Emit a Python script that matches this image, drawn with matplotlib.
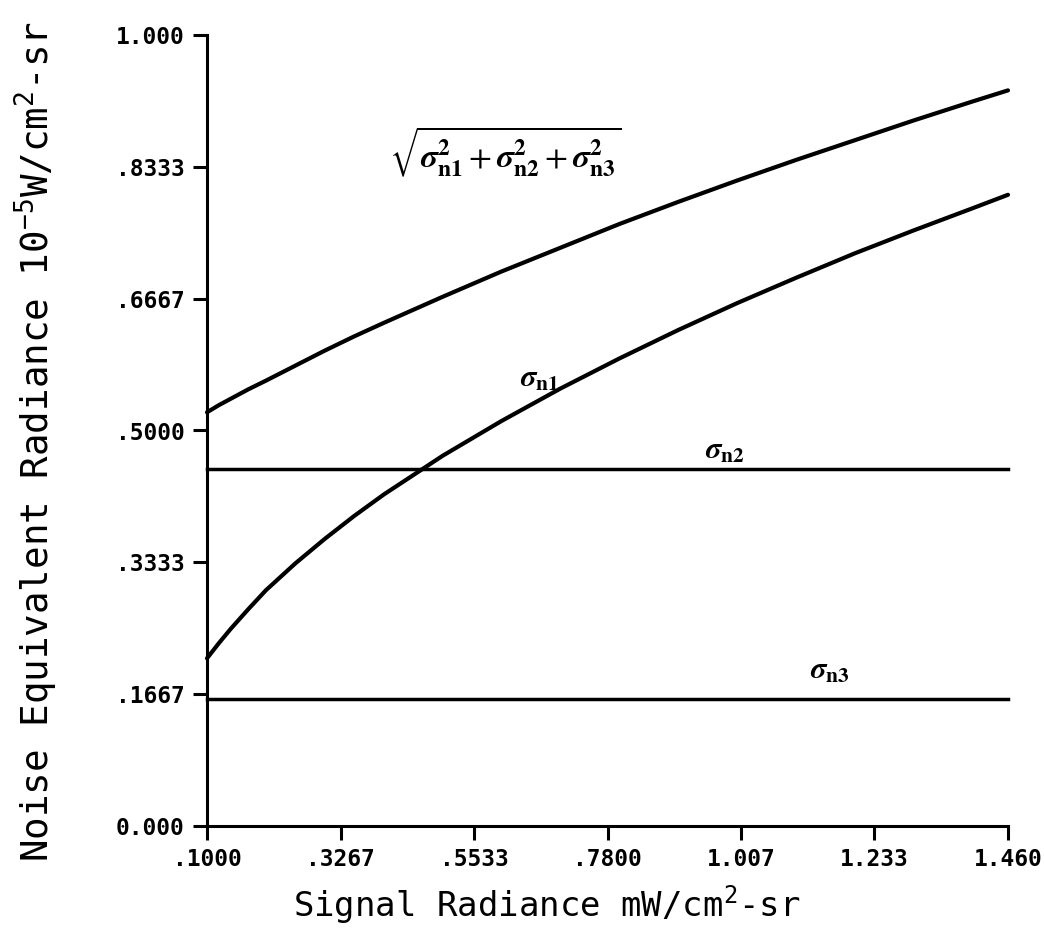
import matplotlib
matplotlib.use("Agg")
import matplotlib.pyplot as plt

plt.rcParams['mathtext.fontset'] = 'custom'
plt.rcParams['mathtext.rm'] = 'DejaVu Sans Mono'
plt.rcParams['mathtext.it'] = 'DejaVu Sans Mono'
plt.rcParams['mathtext.bf'] = 'DejaVu Sans Mono:bold'

# Signal radiance (mW/cm^2-sr)
signal = [0.10, 0.12, 0.14, 0.17, 0.20, 0.25, 0.30, 0.35, 0.40, 0.50, 0.60,
          0.70, 0.80, 0.90, 1.00, 1.10, 1.20, 1.30, 1.40, 1.46]
# sigma_n1
sigma_n1 = [0.212, 0.231, 0.249, 0.274, 0.298, 0.332, 0.363, 0.392, 0.419,
            0.468, 0.512, 0.553, 0.591, 0.627, 0.661, 0.693, 0.724, 0.753,
            0.781, 0.798]
# total noise sqrt(sn1^2+sn2^2+sn3^2)
sigma_total = [0.523, 0.532, 0.540, 0.552, 0.563, 0.582, 0.601, 0.619, 0.636,
               0.669, 0.701, 0.731, 0.761, 0.789, 0.816, 0.842, 0.867, 0.892,
               0.916, 0.930]
# constant terms
sigma_n2_x = [0.10, 1.46]
sigma_n2 = [0.451, 0.451]
sigma_n3_x = [0.10, 1.46]
sigma_n3 = [0.160, 0.160]

xticks = [0.1000, 0.3267, 0.5533, 0.7800, 1.007, 1.233, 1.460]
xticklabels = ['.1000', '.3267', '.5533', '.7800', '1.007', '1.233', '1.460']
yticks = [0.0, 0.1667, 0.3333, 0.5000, 0.6667, 0.8333, 1.000]
yticklabels = ['0.000', '.1667', '.3333', '.5000', '.6667', '.8333', '1.000']

fig = plt.figure(figsize=(10.44, 9.38), dpi=100)
ax = fig.add_axes([207/1044, 1-826/938, (1008-207)/1044, (826-35)/938])

lw = 3.0
ax.plot(signal, sigma_total, color='black', lw=lw, clip_on=False, solid_capstyle='round')
ax.plot(signal, sigma_n1, color='black', lw=lw, clip_on=False, solid_capstyle='round')
ax.plot(sigma_n2_x, sigma_n2, color='black', lw=2.5, clip_on=False)
ax.plot(sigma_n3_x, sigma_n3, color='black', lw=2.5, clip_on=False)

ax.set_xlim(0.1, 1.46)
ax.set_ylim(0, 1.0)
ax.spines['top'].set_visible(False)
ax.spines['right'].set_visible(False)
for s in ['left', 'bottom']:
    ax.spines[s].set_linewidth(2.2)

ax.set_xticks(xticks)
ax.set_xticklabels(xticklabels, fontfamily='DejaVu Sans Mono', fontweight='bold', fontsize=16.5)
ax.set_yticks(yticks)
ax.set_yticklabels(yticklabels, fontfamily='DejaVu Sans Mono', fontweight='bold', fontsize=16.5)
ax.tick_params(axis='both', direction='out', length=10, width=2.2, pad=6)

ax.set_xlabel(r'Signal Radiance mW/cm$^{2}$-sr', fontfamily='DejaVu Sans Mono',
              fontsize=24.5)
ax.xaxis.set_label_coords(0.4245, -0.072)
ax.set_ylabel(r'Noise Equivalent Radiance 10$^{-5}$W/cm$^{2}$-sr',
              fontfamily='DejaVu Sans Mono', fontsize=27)
ax.yaxis.set_label_coords(-0.184, 0.4855)

txt_kw = dict(math_fontfamily='stix', ha='center', va='center', color='black')
sig = r'\mathbfit{\sigma}'
ax.text(0.606, 0.852,
        r'$\sqrt{' + sig + r'_{\mathbf{n1}}^{\mathbf{2}}+' + sig + r'_{\mathbf{n2}}^{\mathbf{2}}+'
        + sig + r'_{\mathbf{n3}}^{\mathbf{2}}}$',
        fontsize=24, **txt_kw)
ax.text(0.665, 0.566, r'$' + sig + r'_{\mathbf{n1}}$', fontsize=22, **txt_kw)
ax.text(0.98, 0.475, r'$' + sig + r'_{\mathbf{n2}}$', fontsize=22, **txt_kw)
ax.text(1.158, 0.197, r'$' + sig + r'_{\mathbf{n3}}$', fontsize=22, **txt_kw)

fig.savefig('out.png', dpi=100)
